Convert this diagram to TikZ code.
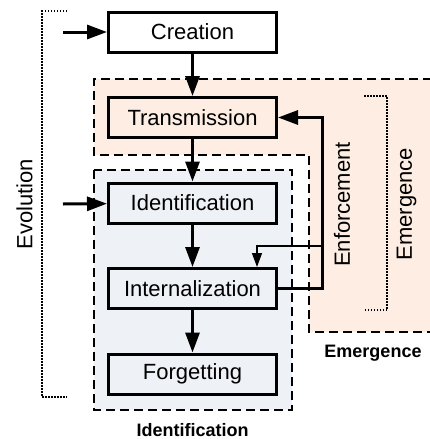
\documentclass[tikz,border=0pt]{standalone}
\usepackage{fontspec}
\setmainfont{Liberation Sans}
\usetikzlibrary{arrows.meta,positioning,backgrounds}
\definecolor{peach}{HTML}{FDEDE3}
\definecolor{mist}{HTML}{EEF1F6}

\begin{document}
\begin{tikzpicture}[
  x=1pt, y=-1pt,
  font=\fontsize{22}{26}\selectfont,
  node distance=42.5pt,
  stage/.style={draw, line width=3pt, minimum width=168pt, minimum height=40pt, inner sep=0pt},
  arr/.style={line width=3pt, -{Triangle[length=20pt,width=14pt]}},
  tarr/.style={line width=1.5pt, -{Triangle[length=14pt,width=10pt]}},
  zone/.style={dash pattern=on 9pt off 5pt, line width=1.8pt},
  brk/.style={dash pattern=on 1.5pt off 1.5pt, line width=1.5pt},
  ttl/.style={font=\fontsize{18}{22}\selectfont\bfseries},
  side/.style={rotate=90}
]
\useasboundingbox (0,0) rectangle (430,439);
% Life-cycle stages
\node[stage] (creation) at (192.5,32) {Creation};
\node[stage, fill=peach, below=of creation] (trans) {Transmission};
\node[stage, fill=mist, below=of trans] (ident) {Identification};
\node[stage, fill=mist, below=of ident] (intern) {Internalization};
\node[stage, fill=mist, below=of intern] (forget) {Forgetting};
% Side labels
\node[side] (evo) at (24.5,204) {Evolution};
\node[side] (enf) at (342,204.5) {Enforcement};
\node[side] (emg) at (406.5,204) {Emergence};
\node[ttl] (emgttl) at (373,353) {Emergence};
\node[ttl] (idttl) at (192.5,430) {Identification};
% Phase regions
\begin{scope}[on background layer]
\fill[peach] (94,79) -- (432,79) -- (432,332) -- (309,332) -- (309,155) -- (94,155) -- cycle;
\draw[zone] (432,79) -- (94,79) -- (94,155) -- (309,155) -- (309,332) -- (432,332);
\filldraw[zone, fill=mist] (94,170) rectangle (292,410);
\end{scope}
% Brackets
\draw[brk] (67,11) -- (42,11) -- (42,397) -- (67,397);
\draw[brk] (364,96) -- (387,96) -- (387,310) -- (365,310);
% Flow
\coordinate (inA) at (63,32);
\coordinate (inB) at (63,204);
\draw[arr] (inA) -- (creation);
\draw[arr] (inB) -- (ident);
\draw[arr] (creation) -- (trans);
\draw[arr] (trans) -- (ident);
\draw[arr] (ident) -- (intern);
\draw[arr] (intern) -- (forget);
\draw[arr] (intern.east) -- ++(44.5,0) |- (trans.east);
\coordinate (tap) at (321.5,246);
\draw[tarr] (tap) -| ([xshift=64.5pt]intern.north);
\end{tikzpicture}
\end{document}
